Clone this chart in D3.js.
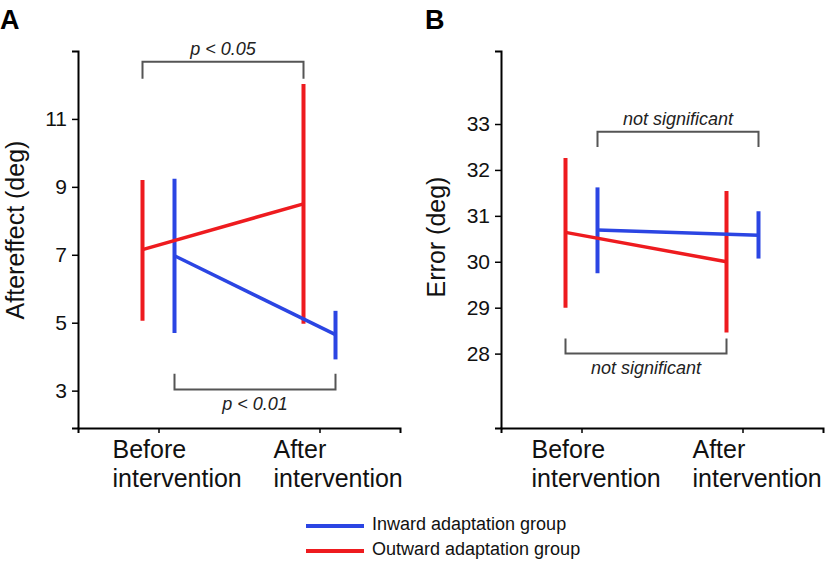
<!DOCTYPE html>
<html>
<head>
<meta charset="utf-8">
<script src="https://cdn.jsdelivr.net/npm/d3@7"></script>
<style>
  html, body { margin: 0; padding: 0; background: #fff; }
  svg { display: block; font-family: "Liberation Sans", Arial, Helvetica, sans-serif; }
</style>
</head>
<body>
<svg id="chart" width="825" height="561"></svg>
<script>
// ---- data ----
const categories = ["Before intervention", "After intervention"];
const categoryLines = [["Before", "intervention"], ["After", "intervention"]];
const groups = ["Inward adaptation group", "Outward adaptation group"];
const groupColors = ["#2b45e3", "#ee1b1f"];

// Panel A: Aftereffect (deg)
const aInwardMean = [6.97, 4.65];
const aInwardLow = [4.70, 3.92];
const aInwardHigh = [9.24, 5.35];
const aOutwardMean = [7.15, 8.50];
const aOutwardLow = [5.06, 4.97];
const aOutwardHigh = [9.20, 12.03];
const aTicks = [3, 5, 7, 9, 11];
const aDomain = [1.9, 13];

// Panel B: Error (deg)
const bInwardMean = [30.69, 30.58];
const bInwardLow = [29.75, 30.07];
const bInwardHigh = [31.62, 31.10];
const bOutwardMean = [30.64, 30.00];
const bOutwardLow = [29.00, 28.46];
const bOutwardHigh = [32.26, 31.54];
const bTicks = [28, 29, 30, 31, 32, 33];
const bDomain = [26.38, 34.59];

// significance brackets: [group index, bar level, leg end level, label]
const aBrackets = [[1, 12.68, 12.18, "p < 0.05"], [0, 3.03, 3.50, "p < 0.01"]];
const bBrackets = [[0, 32.83, 32.50, "not significant"], [1, 28.00, 28.33, "not significant"]];

// ---- drawing ----
const svg = d3.select("#chart");
const font = "\"Liberation Sans\", Arial, Helvetica, sans-serif";

function panel(opts) {
  const g = svg.append("g");
  const x = d3.scalePoint().domain(categories).range(opts.xRange).padding(0.5);
  const y = d3.scaleLinear().domain(opts.domain).range([428, 51]);
  const off = [16, -16]; // inward right, outward left

  // axes
  const ya = g.append("g").attr("transform", `translate(${opts.xRange[0]},0)`)
    .call(d3.axisLeft(y).tickValues(opts.ticks).tickSizeOuter(0).tickSize(6).tickPadding(5));
  ya.select(".domain").attr("stroke", "#000").attr("stroke-width", 2);
  ya.selectAll(".tick line").attr("stroke", "#000").attr("stroke-width", 1.5);
  ya.selectAll(".tick text").attr("font-size", 21).attr("font-family", font).attr("fill", "#111");

  const xa = g.append("g").attr("transform", `translate(0,428)`)
    .call(d3.axisBottom(x).tickSizeOuter(0).tickSize(5).tickFormat(""));
  xa.select(".domain").attr("stroke", "#000").attr("stroke-width", 2);
  xa.selectAll(".tick line").attr("stroke", "#000").attr("stroke-width", 1.5);

  // category labels (two lines, left aligned)
  categories.forEach((c, i) => {
    const t = g.append("text")
      .attr("x", x(c) + opts.labelShift)
      .attr("y", 458)
      .attr("font-size", 25).attr("font-family", font).attr("fill", "#111");
    categoryLines[i].forEach((ln, j) => {
      t.append("tspan").attr("x", x(c) + opts.labelShift).attr("y", 458 + j * 29).text(ln);
    });
  });

  // y label
  g.append("text")
    .attr("transform", `translate(${opts.yLabelX},${opts.yLabelY}) rotate(-90)`)
    .attr("text-anchor", "middle")
    .attr("font-size", 25).attr("font-family", font).attr("fill", "#111")
    .text(opts.yLabel);

  // panel letter
  g.append("text").attr("x", opts.letterX).attr("y", 29)
    .attr("font-size", 27).attr("font-weight", "bold").attr("font-family", font)
    .text(opts.letter);

  // brackets
  opts.brackets.forEach(b => {
    const gi = b[0];
    const x0 = x(categories[0]) + off[gi], x1 = x(categories[1]) + off[gi];
    const yb = y(b[1]), yl = y(b[2]);
    g.append("path")
      .attr("d", `M${x0},${yl}V${yb}H${x1}V${yl}`)
      .attr("fill", "none").attr("stroke", "#555").attr("stroke-width", 2);
    const above = b[2] < b[1];
    g.append("text")
      .attr("x", (x0 + x1) / 2)
      .attr("y", above ? yb - 7 : yb + 20)
      .attr("text-anchor", "middle")
      .attr("font-size", 18).attr("font-style", "italic").attr("font-family", font).attr("fill", "#222")
      .text(b[3]);
  });

  const series = [
    {mean: opts.inward[0], lo: opts.inward[1], hi: opts.inward[2], gi: 0},
    {mean: opts.outward[0], lo: opts.outward[1], hi: opts.outward[2], gi: 1}
  ];
  // error bars
  series.forEach(s => {
    categories.forEach((c, i) => {
      g.append("line")
        .attr("x1", x(c) + off[s.gi]).attr("x2", x(c) + off[s.gi])
        .attr("y1", y(s.lo[i])).attr("y2", y(s.hi[i]))
        .attr("stroke", groupColors[s.gi]).attr("stroke-width", 4);
    });
  });
  // connecting lines
  const line = d3.line().x((d, i) => x(categories[i]) + d.o).y(d => y(d.v));
  [series[1], series[0]].forEach(s => {
    g.append("path")
      .attr("d", line(s.mean.map(v => ({v, o: off[s.gi]}))))
      .attr("fill", "none").attr("stroke", groupColors[s.gi]).attr("stroke-width", 3.5);
  });
}

panel({
  xRange: [78, 400], domain: aDomain, ticks: aTicks, labelShift: -46,
  yLabel: "Aftereffect (deg)", yLabelX: 24, yLabelY: 230, letter: "A", letterX: 0,
  brackets: aBrackets,
  inward: [aInwardMean, aInwardLow, aInwardHigh],
  outward: [aOutwardMean, aOutwardLow, aOutwardHigh]
});
panel({
  xRange: [501, 823], domain: bDomain, ticks: bTicks, labelShift: -50,
  yLabel: "Error (deg)", yLabelX: 445, yLabelY: 237, letter: "B", letterX: 425,
  brackets: bBrackets,
  inward: [bInwardMean, bInwardLow, bInwardHigh],
  outward: [bOutwardMean, bOutwardLow, bOutwardHigh]
});

// legend
const lg = svg.append("g");
groups.forEach((name, i) => {
  const yy = 526 + i * 25;
  lg.append("line").attr("x1", 306).attr("x2", 364).attr("y1", yy).attr("y2", yy)
    .attr("stroke", groupColors[i]).attr("stroke-width", 4);
  lg.append("text").attr("x", 372).attr("y", yy + 4)
    .attr("font-size", 18).attr("font-family", font).attr("fill", "#111")
    .text(name);
});
</script>
</body>
</html>
